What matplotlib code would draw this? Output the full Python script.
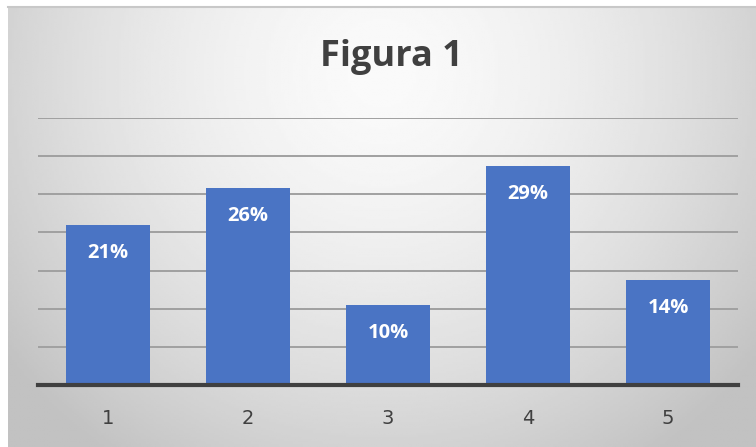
import numpy as np
import matplotlib
matplotlib.use('Agg')
import matplotlib.pyplot as plt

# chart data
categories = ['1', '2', '3', '4', '5']
values = [21.0, 25.8, 10.5, 28.7, 13.8]
labels = ['21%', '26%', '10%', '29%', '14%']
title = 'Figura 1'

W, H = 756, 447
fig = plt.figure(figsize=(W / 100, H / 100), dpi=100)
fig.patch.set_facecolor('white')

# background gradient of the chart box
bg = fig.add_axes([8 / W, 0, 1 - 8 / W, 1 - 7 / H])
yy, xx = np.mgrid[0:1:200j, 0:1:300j]
r = np.sqrt(((xx - 0.5) / 0.6) ** 2 + ((yy - 0.15) / 1.0) ** 2)
shade = np.clip(0.98 - 0.2 * r ** 1.6, 0.76, 0.98)
bg.imshow(shade, cmap='gray', vmin=0, vmax=1, aspect='auto', extent=[0, 1, 0, 1], origin='upper')
bg.set_axis_off()
bg.plot([0, 1], [1, 1], color='#c8c8c8', lw=1.5, transform=bg.transAxes, clip_on=False)

ax = fig.add_axes([38 / W, 1 - 385 / H, 700 / W, (385 - 118) / H])
ax.patch.set_alpha(0)
x = np.arange(len(categories))
bars = ax.bar(x, values, width=0.6, color='#4a74c4', zorder=3)
ax.set_xlim(-0.5, len(categories) - 0.5)
ax.set_ylim(0, 35)
ax.set_yticks(np.arange(0, 36, 5))
ax.yaxis.grid(True, color='#a0a0a0', lw=1.4, zorder=0)
ax.tick_params(axis='y', left=False, labelleft=False)
ax.tick_params(axis='x', bottom=False, pad=14, labelsize=14, labelcolor='#404040')
ax.set_xticks(x)
ax.set_xticklabels(categories)
for s in ['top', 'right', 'left']:
    ax.spines[s].set_visible(False)
ax.spines['bottom'].set_color('#404040')
ax.spines['bottom'].set_linewidth(3)
ax.spines['bottom'].set_zorder(4)

for xi, v, lab in zip(x, values, labels):
    ax.annotate(lab, (xi, v), xytext=(0, -28), textcoords='offset pixels',
                ha='center', va='center', color='white', fontsize=14.5, fontweight='bold',
                family='Open Sans', zorder=5)

fig.text(0.518, 1 - 57 / H, title, ha='center', va='center', fontsize=26,
         fontweight='bold', color='#404040', family='Open Sans')

fig.savefig('out.png', dpi=100, facecolor=fig.get_facecolor())
